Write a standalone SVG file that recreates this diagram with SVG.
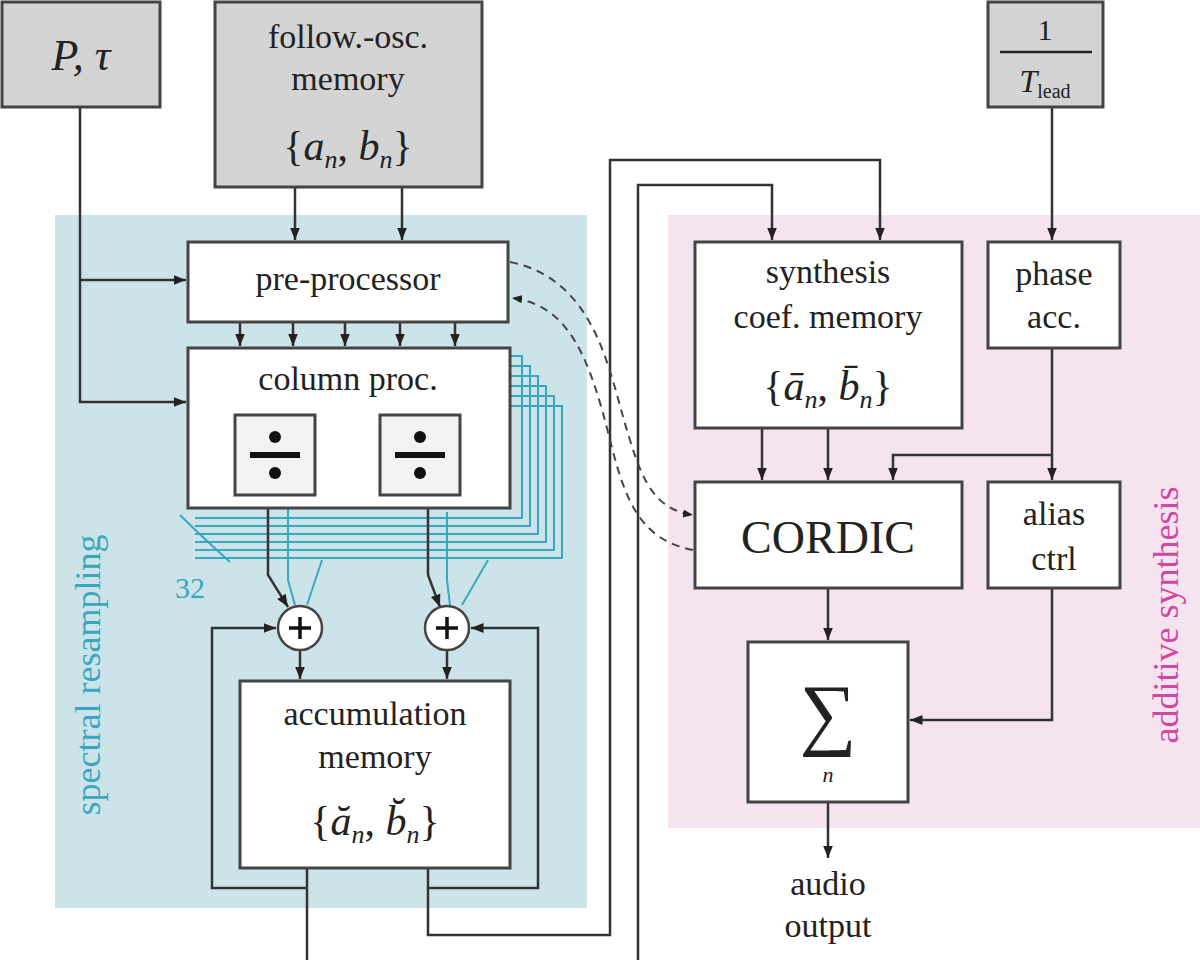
<svg xmlns="http://www.w3.org/2000/svg" width="1200" height="960" viewBox="0 0 1200 960">
<defs>
<marker id="a" viewBox="0 0 10 10" refX="10" refY="5" markerWidth="5" markerHeight="5" orient="auto"><path d="M0,1 L10,5 L0,9 z" fill="#222"/></marker>
<style>
.b{fill:#fff;stroke:#444;stroke-width:3}
.g{fill:#d4d4d4;stroke:#444;stroke-width:3}
.t{font-family:'Liberation Serif','DejaVu Serif',serif;font-size:34px;fill:#222;text-anchor:middle}
.m{font-style:italic}
.c{fill:none;stroke:#333;stroke-width:2.5}
.bl{fill:none;stroke:#3aa7c0;stroke-width:2}
.d{fill:none;stroke:#444;stroke-width:2;stroke-dasharray:8,6}
</style>
</defs>
<rect x="0" y="0" width="1200" height="960" fill="#fff"/>
<rect x="55" y="215" width="532" height="693" fill="#cde3ea"/>
<rect x="668" y="215" width="532" height="613" fill="#f5e3ef"/>
<text class="t" font-family="Liberation Serif, serif" transform="translate(100,675) rotate(-90)" style="fill:#3aa7c0;font-size:36px">spectral resampling</text>
<text class="t" font-family="Liberation Serif, serif" transform="translate(1178,615) rotate(-90)" style="fill:#d048a0;font-size:36px">additive synthesis</text>

<g id="stack">
<path class="bl" d="M510,356 H522 V518 H195 M510,366 H530 V526 H195 M510,376 H538 V534 H195 M510,386 H546 V542 H195 M510,396 H554 V550 H195 M510,406 H562 V558 H195"/>
<path class="bl" d="M180,515 Q200,535 230,562"/>
<text class="t" x="190" y="598" font-family="Liberation Serif, serif" style="fill:#3aa7c0;font-size:30px">32</text>
</g>

<g id="connectors">
<path class="c" d="M80,107 V402 H186" marker-end="url(#a)"/>
<path class="c" d="M80,280 H186" marker-end="url(#a)"/>
<path class="c" d="M295,187 V240" marker-end="url(#a)"/>
<path class="c" d="M402,187 V240" marker-end="url(#a)"/>
<path class="c" d="M240,322 V346" marker-end="url(#a)"/>
<path class="c" d="M293,322 V346" marker-end="url(#a)"/>
<path class="c" d="M345,322 V346" marker-end="url(#a)"/>
<path class="c" d="M400,322 V346" marker-end="url(#a)"/>
<path class="c" d="M455,322 V346" marker-end="url(#a)"/>
<path class="c" d="M268,508 V575 L288,607" marker-end="url(#a)"/>
<path class="c" d="M428,508 V575 L440,607" marker-end="url(#a)"/>
<path class="bl" d="M288,508 V580 L295,605 M322,560 L307,605"/>
<path class="bl" d="M447,512 V580 L450,605 M488,560 L462,605"/>
<path class="c" d="M300,650 V679" marker-end="url(#a)"/>
<path class="c" d="M447,650 V679" marker-end="url(#a)"/>
<path class="c" d="M307,868 V960"/>
<path class="c" d="M307,888 H212 V628 H276" marker-end="url(#a)"/>
<path class="c" d="M428,868 V935 H610 V160 H880 V240" marker-end="url(#a)"/>
<path class="c" d="M428,888 H538 V628 H471" marker-end="url(#a)"/>
<path class="c" d="M638,960 V185 H772 V240" marker-end="url(#a)"/>
<path class="d" d="M510,262 C600,280 610,380 630,440 C645,490 660,510 693,515" marker-end="url(#a)"/>
<path class="d" d="M693,550 C640,540 625,500 610,440 C590,360 570,305 512,298" marker-end="url(#a)"/>
<path class="c" d="M1052,107 V240" marker-end="url(#a)"/>
<path class="c" d="M1052,348 V480" marker-end="url(#a)"/>
<path class="c" d="M1052,455 H893 V480" marker-end="url(#a)"/>
<path class="c" d="M1052,588 V720 H910" marker-end="url(#a)"/>
<path class="c" d="M762,428 V480" marker-end="url(#a)"/>
<path class="c" d="M828,428 V480" marker-end="url(#a)"/>
<path class="c" d="M828,588 V640" marker-end="url(#a)"/>
<path class="c" d="M828,802 V858" marker-end="url(#a)"/>
</g>

<g font-family="Liberation Serif, serif">
<g id="ptau"><rect class="g" x="2" y="2" width="158" height="105"/><text class="t m" x="81" y="70" style="font-size:44px">P, τ</text></g>
<g id="follow"><rect class="g" x="215" y="2" width="267" height="185"/><text class="t" x="348" y="48">follow.-osc.</text><text class="t" x="348" y="90">memory</text><text class="t" x="348" y="160" style="font-size:42px">{<tspan class="m">a</tspan><tspan class="m" font-size="26" dy="8">n</tspan><tspan dy="-8">, </tspan><tspan class="m">b</tspan><tspan class="m" font-size="26" dy="8">n</tspan><tspan dy="-8">}</tspan></text></g>
<g id="tlead"><rect class="g" x="988" y="2" width="115" height="105"/><text class="t" x="1045" y="40" style="font-size:30px">1</text><line x1="1000" y1="52" x2="1092" y2="52" stroke="#222" stroke-width="2.5"/><text class="t" x="1045" y="92" style="font-size:32px"><tspan class="m">T</tspan><tspan font-size="20" dy="6">lead</tspan></text></g>
<g id="pre"><rect class="b" x="188" y="242" width="320" height="80"/><text class="t" x="348" y="290">pre-processor</text></g>
<g id="col"><rect class="b" x="188" y="348" width="322" height="160"/><text class="t" x="348" y="390">column proc.</text>
<rect x="235" y="415" width="80" height="80" fill="#f2f2f2" stroke="#444" stroke-width="3"/><rect x="380" y="415" width="80" height="80" fill="#f2f2f2" stroke="#444" stroke-width="3"/>
<g fill="#111"><circle cx="275" cy="437" r="6"/><circle cx="275" cy="473" r="6"/><rect x="250" y="452" width="50" height="6"/><circle cx="420" cy="437" r="6"/><circle cx="420" cy="473" r="6"/><rect x="395" y="452" width="50" height="6"/></g></g>
<g id="sum1"><circle cx="300" cy="628" r="22" fill="#fff" stroke="#444" stroke-width="2.5"/><path d="M289,628 H311 M300,617 V639" stroke="#111" stroke-width="3.5"/></g>
<g id="sum2"><circle cx="447" cy="628" r="22" fill="#fff" stroke="#444" stroke-width="2.5"/><path d="M436,628 H458 M447,617 V639" stroke="#111" stroke-width="3.5"/></g>
<g id="acc"><rect class="b" x="240" y="681" width="270" height="187"/><text class="t" x="375" y="725">accumulation</text><text class="t" x="375" y="768">memory</text><text class="t" x="375" y="835" style="font-size:42px">{<tspan class="m">ă</tspan><tspan class="m" font-size="26" dy="8">n</tspan><tspan dy="-8">, </tspan><tspan class="m">b̆</tspan><tspan class="m" font-size="26" dy="8">n</tspan><tspan dy="-8">}</tspan></text></g>
<g id="synth"><rect class="b" x="695" y="242" width="267" height="186"/><text class="t" x="828" y="283">synthesis</text><text class="t" x="828" y="328">coef. memory</text><text class="t" x="828" y="400" style="font-size:42px">{<tspan class="m">ā</tspan><tspan class="m" font-size="26" dy="8">n</tspan><tspan dy="-8">, </tspan><tspan class="m">b̄</tspan><tspan class="m" font-size="26" dy="8">n</tspan><tspan dy="-8">}</tspan></text></g>
<g id="phase"><rect class="b" x="988" y="242" width="132" height="106"/><text class="t" x="1054" y="285">phase</text><text class="t" x="1054" y="328">acc.</text></g>
<g id="cordic"><rect class="b" x="695" y="482" width="267" height="106"/><text class="t" x="828" y="553" style="font-size:46px">CORDIC</text></g>
<g id="alias"><rect class="b" x="988" y="482" width="132" height="106"/><text class="t" x="1054" y="525">alias</text><text class="t" x="1054" y="570">ctrl</text></g>
<g id="sigma"><rect class="b" x="748" y="642" width="160" height="160"/><text class="t" x="828" y="740" style="font-size:80px">∑</text><text class="t m" x="828" y="782" style="font-size:22px">n</text></g>
<g id="out"><text class="t" x="828" y="895">audio</text><text class="t" x="828" y="937">output</text></g>
</g>
</svg>
